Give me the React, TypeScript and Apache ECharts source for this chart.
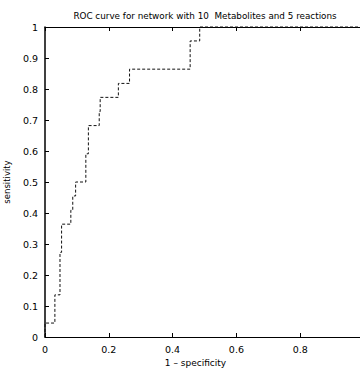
import React, { useEffect, useRef } from "react";
import * as echarts from "echarts";

const titleText = "ROC curve for network with 10  Metabolites and 5 reactions";
const xName = "1 \u2013 specificity";
const yName = "sensitivity";
// ROC operating points (1 - specificity, sensitivity)
const fpr = [0, 0, 0.031, 0.047, 0.052, 0.081, 0.087, 0.096, 0.128, 0.136, 0.17, 0.173, 0.23, 0.265, 0.455, 0.485, 1];
const tpr = [0, 0.045, 0.136, 0.273, 0.364, 0.409, 0.455, 0.5, 0.591, 0.682, 0.727, 0.773, 0.818, 0.864, 0.955, 1, 1];

const FONT = "DejaVu Sans";

export default function App() {
  const ref = useRef<HTMLDivElement>(null);
  useEffect(() => {
    document.body.style.margin = "0";
    const chart = echarts.init(ref.current!, null, { renderer: "svg" });
    const data = fpr.map((x, i) => [x, tpr[i]]);
    const axisCommon = {
      min: 0,
      max: 1,
      axisLine: { show: true, onZero: false, lineStyle: { color: "#000", width: 1 } },
      axisTick: { show: true, inside: true, length: 4, lineStyle: { color: "#000" } },
      splitLine: { show: false },
    };
    chart.setOption({
      animation: false,
      backgroundColor: "#fff",
      title: {
        text: titleText,
        left: 200,
        textAlign: "center",
        top: 6,
        textStyle: { fontFamily: FONT, fontSize: 8.8, fontWeight: "normal", color: "#000" },
      },
      grid: { left: 45, top: 27, width: 319, height: 310, outerBoundsMode: "none", containLabel: false },
      xAxis: [
        {
          ...axisCommon,
          type: "value",
          position: "bottom",
          interval: 0.2,
          name: xName,
          nameLocation: "middle",
          nameGap: 18,
          nameTextStyle: { fontFamily: FONT, fontSize: 9, color: "#000", padding: [0, 18, 0, 0] },
          axisLabel: {
            fontFamily: FONT,
            fontSize: 9.5,
            color: "#000",
            margin: 7,
            showMaxLabel: false,
            formatter: (v: number) => String(Math.round(v * 10) / 10),
          },
        },
        {
          ...axisCommon,
          type: "value",
          position: "top",
          interval: 0.2,
          axisLabel: { show: false },
        },
      ],
      yAxis: [
        {
          ...axisCommon,
          type: "value",
          position: "left",
          interval: 0.1,
          name: yName,
          nameLocation: "middle",
          nameGap: 23,
          nameRotate: 90,
          nameTextStyle: { fontFamily: FONT, fontSize: 8.5, color: "#000" },
          axisLine: { show: true, onZero: false, lineStyle: { color: "#000", width: 1.5 } },
          axisLabel: {
            fontFamily: FONT,
            fontSize: 9.5,
            color: "#000",
            margin: 7,
            formatter: (v: number) => String(Math.round(v * 10) / 10),
          },
        },
        {
          ...axisCommon,
          type: "value",
          position: "right",
          interval: 0.1,
          axisLabel: { show: false },
        },
      ],
      series: [
        {
          type: "line",
          data,
          step: "end",
          symbol: "none",
          lineStyle: { color: "#111", width: 1, type: [3, 2] },
          clip: false,
        },
      ],
    });
    return () => chart.dispose();
  }, []);
  return <div ref={ref} style={{ width: 360, height: 369 }} />;
}
